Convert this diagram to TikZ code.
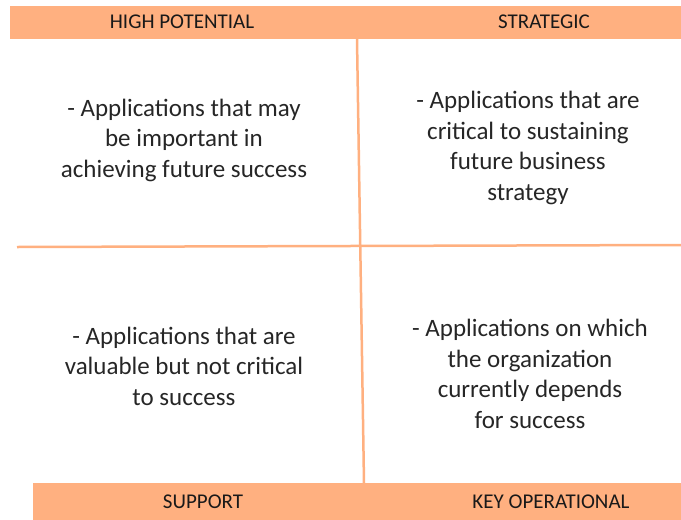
\documentclass[tikz,border=0pt]{standalone}
\usepackage{fontspec}
\setmainfont{Carlito}
\usepackage{tikz}
\definecolor{peach}{RGB}{255,176,128}
\begin{document}
\begin{tikzpicture}[x=1pt,y=-1pt]

\tikzset{bar/.style = {fill=peach,draw=none}}
\tikzset{rule/.style = {draw=peach,line width=2.5pt}}
\tikzset{head/.style = {font=\fontsize{21}{24}\selectfont,text=black!90}}
\tikzset{quad/.style = {align=center,font=\fontsize{25}{30.5}\selectfont,text=black!85}}
\useasboundingbox (0,0) rectangle (681,520);
% bars
\fill[bar] (10,6) rectangle (681,39);
\fill[bar] (33,483) rectangle (681,520);
% dividers
\draw[rule] (357,39) -- (364,483);
\draw[rule] (17,247) -- (681,245);
% headings
\node[head] (hp) at (182,22) {HIGH POTENTIAL};
\node[head] (st) at (544,22) {STRATEGIC};
\node[head] (su) at (203,502) {SUPPORT};
\node[head] (ko) at (551,502) {KEY OPERATIONAL};
% quadrants
\node[quad] (hpq) at (184,140) {- Applications that may\\be important in\\achieving future success};
\node[quad] (stq) at (528,148) {- Applications that are\\critical to sustaining\\future business\\strategy};
\node[quad] (suq) at (184,366) {- Applications that are\\valuable but not critical\\to success};
\node[quad] (koq) at (530,374) {- Applications on which\\the organization\\currently depends\\for success};
\end{tikzpicture}
\end{document}
